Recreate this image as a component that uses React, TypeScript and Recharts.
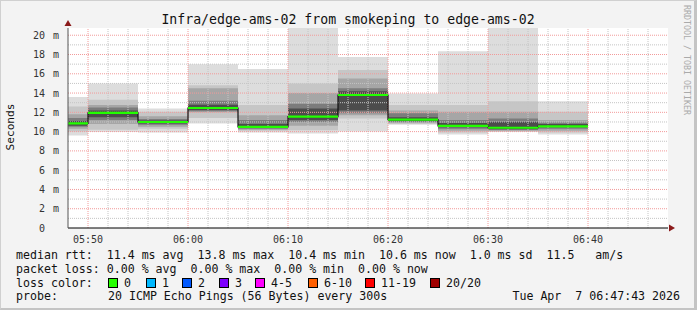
import React from "react";
import {
  Area,
  ComposedChart,
  CartesianGrid,
  Line,
  ReferenceDot,
  ReferenceLine,
  XAxis,
  YAxis,
} from "recharts";

const MONO = '"DejaVu Sans Mono", monospace';

// 5 minute steps (smokeping step = 300s)
const BLOCK_START = ["05:45", "05:50", "05:55", "06:00", "06:05", "06:10", "06:15", "06:20", "06:25", "06:30", "06:35"];
const BLOCK_END = "06:40";
const VIEW_START = "05:48";
const VIEW_END = "06:48";

// median rtt per step, ms
const MEDIAN = [10.85, 11.95, 11.0, 12.45, 10.5, 11.55, 13.8, 11.25, 10.6, 10.4, 10.55];

// smoke: ping spread per step, ms
const PING_MIN = [9.6, 9.95, 9.9, 10.85, 9.9, 9.8, 10.0, 10.7, 9.7, 9.95, 9.7];
const PING_MAX = [13.6, 15.0, 12.4, 17.0, 16.5, 20.75, 17.75, 13.95, 18.35, 20.75, 13.15];
const P10 = [10.0, 10.2, 10.3, 11.4, 10.1, 10.15, 11.35, 10.8, 9.9, 10.0, 9.9];
const P90 = [12.6, 13.3, 12.05, 14.8, 12.75, 15.0, 16.4, 12.75, 12.75, 13.15, 12.05];
const P20 = [10.3, 10.8, 10.5, 12.0, 10.2, 10.6, 11.7, 10.9, 10.1, 10.1, 10.1];
const P80 = [11.8, 12.75, 11.6, 14.5, 11.7, 14.0, 15.5, 12.2, 12.05, 12.05, 11.2];
const P30 = [10.5, 11.2, 10.7, 12.1, 10.3, 11.0, 11.9, 11.0, 10.3, 10.2, 10.3];
const P70 = [11.4, 12.5, 11.3, 13.2, 11.2, 12.9, 14.5, 11.9, 11.2, 11.35, 10.95];
const P40 = [10.6, 11.5, 10.85, 12.25, 10.4, 11.2, 12.2, 11.1, 10.45, 10.25, 10.45];
const P60 = [11.1, 12.2, 11.15, 12.8, 10.8, 12.4, 14.2, 11.5, 10.9, 11.0, 10.8];

const X_TICKS = ["05:50", "06:00", "06:10", "06:20", "06:30", "06:40"];
const Y_TICKS = [0, 2, 4, 6, 8, 10, 12, 14, 16, 18, 20];
const Y_TOP = 20.75;

const LOSS_LABELS = ["0", "1", "2", "3", "4-5", "6-10", "11-19", "20/20"];
const LOSS_COLORS = ["#26ff00", "#00b8ff", "#0059ff", "#7e00ff", "#ff00ff", "#ff5f00", "#ff0000", "#a00000"];

const toMin = (s: string) => {
  const [h, m, sec = 0] = s.split(":").map(Number);
  return h * 60 + m + sec / 60;
};
const fmtTime = (v: number) => {
  const h = Math.floor(v / 60);
  const m = Math.round(v % 60);
  return `${String(h).padStart(2, "0")}:${String(m).padStart(2, "0")}`;
};

const START = toMin(VIEW_START);
const END = toMin(VIEW_END);

const bands = [
  { lo: PING_MIN, hi: PING_MAX, fill: "#dddddd" },
  { lo: P10, hi: P90, fill: "#c6c6c6" },
  { lo: P20, hi: P80, fill: "#a6a6a6" },
  { lo: P30, hi: P70, fill: "#7c7c7c" },
  { lo: P40, hi: P60, fill: "#4c4c4c" },
];

const stepTimes = BLOCK_START.map((s) => Math.max(toMin(s), START));
const rows = [...stepTimes, toMin(BLOCK_END)].map((t, i) => {
  const k = Math.min(i, MEDIAN.length - 1);
  const row: Record<string, any> = { t, med: MEDIAN[k] };
  bands.forEach((b, j) => {
    row["b" + j] = [b.lo[k], b.hi[k]];
  });
  return row;
});

// green median: horizontal pieces only
const greenRows = MEDIAN.flatMap((v, i) => {
  const end = i + 1 < BLOCK_START.length ? toMin(BLOCK_START[i + 1]) : toMin(BLOCK_END);
  return [
    { t: stepTimes[i], g: v },
    { t: end, g: v },
    { t: end, g: null },
  ];
});

const majorX = X_TICKS.map(toMin);
const minorX: number[] = [];
for (let t = Math.ceil(START / 2) * 2 + 2; t < END; t += 2) if (!majorX.includes(t)) minorX.push(t);
const minorY: number[] = [];
for (let v = 1; v < Y_TOP; v += 2) minorY.push(v);

const PRE = { whiteSpace: "pre" as const };

function YTick({ x, y, payload }: any) {
  const v = payload.value;
  return (
    <g>
      <text x={x - 21} y={y} dy={3.6} textAnchor="end" fontFamily={MONO} fontSize={10} fill="#333333">
        {v}
      </text>
      {v !== 0 && (
        <text x={x - 13} y={y} dy={3.6} textAnchor="start" fontFamily={MONO} fontSize={10} fill="#333333">
          m
        </text>
      )}
    </g>
  );
}

function XTick({ x, y, payload }: any) {
  return (
    <text x={x} y={y + 12.7} textAnchor="middle" fontFamily={MONO} fontSize={10} fill="#333333">
      {fmtTime(payload.value)}
    </text>
  );
}

const arrowRight = ({ cx, cy }: any) => <path d={`M${cx + 1},${cy - 3.5} L${cx + 7},${cy} L${cx + 1},${cy + 3.5} Z`} fill="#8b1a1a" />;
const arrowUp = ({ cx, cy }: any) => <path d={`M${cx - 3.5},${cy - 2} L${cx},${cy - 8} L${cx + 3.5},${cy - 2} Z`} fill="#8b1a1a" />;

const legendRows = [
  "median rtt:  11.4 ms avg  13.8 ms max  10.4 ms min  10.6 ms now  1.0 ms sd  11.5   am/s",
  "packet loss: 0.00 % avg  0.00 % max  0.00 % min  0.00 % now",
];
const boxX = [108, 146, 182, 219, 255, 308, 365, 430];

export default function App() {
  return (
    <div
      style={{
        position: "absolute",
        left: 0,
        top: 0,
        width: 697,
        height: 310,
        background: "#f3f3f3",
        overflow: "hidden",
      }}
    >
      <div style={{ position: "absolute", left: 0, top: 0 }}>
        <ComposedChart width={697} height={310} data={rows} margin={{ top: 28, right: 29, bottom: 62, left: 0 }}>
          <CartesianGrid fill="#ffffff" horizontal={false} vertical={false} />
          <XAxis
            type="number"
            dataKey="t"
            domain={[START, END]}
            allowDataOverflow
            ticks={majorX}
            tick={<XTick />}
            tickLine={false}
            tickSize={0}
            axisLine={{ stroke: "#000" }}
            height={20}
            interval={0}
          />
          <YAxis
            type="number"
            domain={[0, Y_TOP]}
            allowDataOverflow
            ticks={Y_TICKS}
            tick={<YTick />}
            tickLine={false}
            tickSize={0}
            axisLine={{ stroke: "#555" }}
            width={68}
            interval={0}
          />
          {bands.map((b, j) => (
            <Area
              key={j}
              dataKey={"b" + j}
              type="stepAfter"
              stroke="none"
              fill={b.fill}
              fillOpacity={1}
              isAnimationActive={false}
              dot={false}
              activeDot={false}
            />
          ))}
          {minorX.map((t) => (
            <ReferenceLine key={"mx" + t} x={t} stroke="#c4c4c4" strokeDasharray="1 1" />
          ))}
          {minorY.map((v) => (
            <ReferenceLine key={"my" + v} y={v} stroke="#c4c4c4" strokeDasharray="1 1" />
          ))}
          {majorX.map((t) => (
            <ReferenceLine key={"Mx" + t} x={t} stroke="#f29a9a" strokeDasharray="1 1" />
          ))}
          {Y_TICKS.filter((v) => v > 0).map((v) => (
            <ReferenceLine key={"My" + v} y={v} stroke="#f29a9a" strokeDasharray="1 1" />
          ))}
          <Line
            dataKey="med"
            type="stepAfter"
            stroke="#111"
            strokeWidth={1.2}
            dot={false}
            activeDot={false}
            isAnimationActive={false}
          />
          <Line
            data={greenRows}
            dataKey="g"
            type="linear"
            stroke="#22ff00"
            strokeWidth={2.2}
            dot={false}
            activeDot={false}
            connectNulls={false}
            isAnimationActive={false}
          />
          <ReferenceDot x={END} y={0} r={0} shape={arrowRight} ifOverflow="visible" />
          <ReferenceDot x={START} y={Y_TOP} r={0} shape={arrowUp} ifOverflow="visible" />
        </ComposedChart>
      </div>
      <svg width={697} height={310} style={{ position: "absolute", left: 0, top: 0, pointerEvents: "none" }}>
        <text x={348} y={23.5} textAnchor="middle" fontFamily={MONO} fontSize={13.2} fill="#111">
          Infra/edge-ams-02 from smokeping to edge-ams-02
        </text>
        <text
          transform="translate(10,127) rotate(-90)"
          textAnchor="middle"
          dominantBaseline="central"
          fontFamily={MONO}
          fontSize={11.2}
          fill="#111"
        >
          Seconds
        </text>
        <text
          transform="translate(687,60) rotate(90)"
          textAnchor="middle"
          dominantBaseline="central"
          fontFamily={MONO}
          fontSize={8.3}
          fill="#aaaaaa"
        >
          RRDTOOL / TOBI OETIKER
        </text>
        <g fontFamily={MONO} fontSize={11.6} fill="#111">
          <text x={16} y={259} style={PRE} xmlSpace="preserve">{legendRows[0]}</text>
          <text x={16} y={272.7} style={PRE} xmlSpace="preserve">{legendRows[1]}</text>
          <text x={16} y={286.5}>loss color:</text>
          {LOSS_LABELS.map((l, i) => (
            <g key={l}>
              <rect x={boxX[i] + 0.5} y={278.5} width={9} height={9} fill={LOSS_COLORS[i]} stroke="#000" />
              <text x={boxX[i] + 16} y={286.5}>{l}</text>
            </g>
          ))}
          <text x={16} y={300}>probe:</text>
          <text x={108} y={300}>20 ICMP Echo Pings (56 Bytes) every 300s</text>
          <text x={680} y={300} textAnchor="end" style={PRE} xmlSpace="preserve">Tue Apr  7 06:47:43 2026</text>
        </g>
      </svg>
      <div
        style={{
          position: "absolute",
          left: 0,
          top: 0,
          width: 697,
          height: 310,
          boxSizing: "border-box",
          borderTop: "1px solid #d0d0d0",
          borderLeft: "1px solid #d0d0d0",
          borderRight: "3px solid #c4c4c4",
          borderBottom: "2px solid #c4c4c4",
          pointerEvents: "none",
        }}
      />
    </div>
  );
}
